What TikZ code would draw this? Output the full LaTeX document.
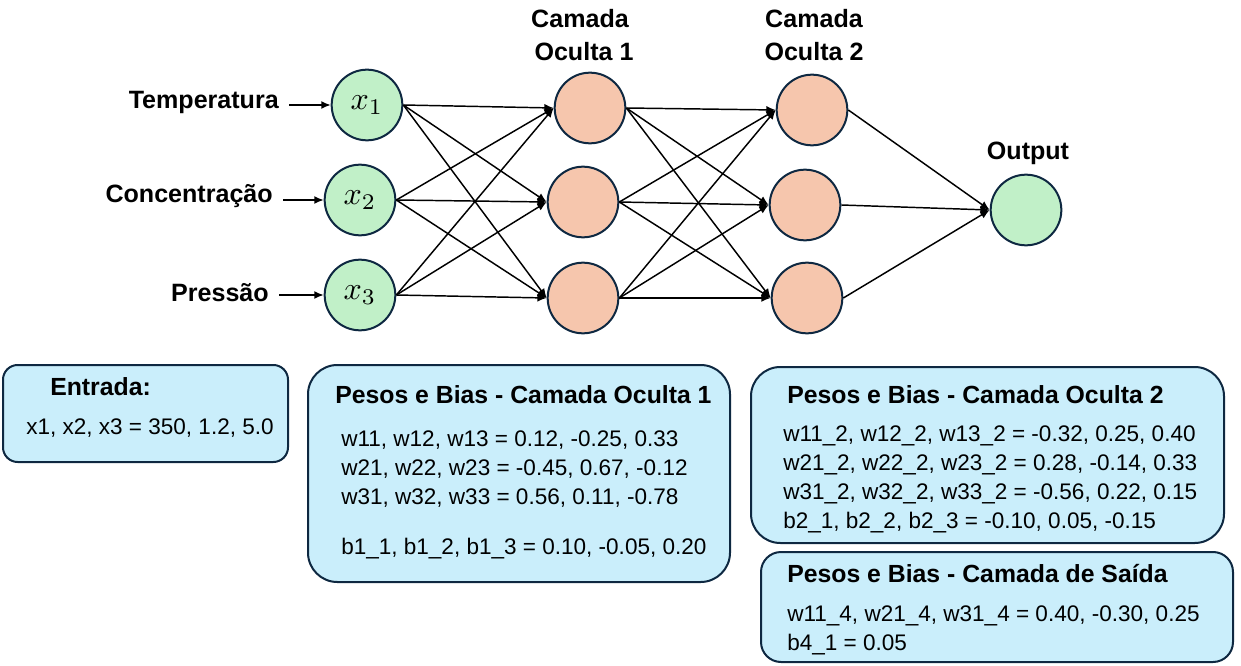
\documentclass[tikz,border=0pt]{standalone}
\usepackage[no-math]{fontspec}
\setmainfont{Liberation Sans}
\usetikzlibrary{arrows.meta}
\definecolor{navy}{HTML}{0E2841}
\definecolor{ngreen}{HTML}{C1F0C8}
\definecolor{npeach}{HTML}{F6C6AD}
\definecolor{boxblue}{HTML}{CAEEFB}
\newcommand{\bigmath}[1]{\scalebox{2.4}{$#1$}}
\begin{document}
\begin{tikzpicture}[x=0.75pt,y=-0.75pt,
  neuron/.style={circle, draw=navy, line width=1.5pt, minimum size=53pt, inner sep=0pt},
  inp/.style={neuron, fill=ngreen},
  hid/.style={neuron, fill=npeach},
  conn/.style={-{Latex[length=7pt,width=6pt]}, line width=1.1pt},
  hdr/.style={font=\bfseries\fontsize{18.8}{22}\selectfont, inner sep=0pt, anchor=base},
  lbl/.style={font=\bfseries\fontsize{18.8}{22}\selectfont, inner xsep=7.5pt, inner ysep=0pt, anchor=base east},
  infobox/.style={draw=navy, fill=boxblue, line width=1.5pt, inner sep=0pt, rounded corners=#1},
  infobox/.default=12pt,
  btitle/.style={font=\bfseries\fontsize{18.6}{22}\selectfont, inner sep=0pt, anchor=base west},
  body/.style={font=\fontsize{16.9}{20}\selectfont, inner sep=0pt, anchor=base west},
  mth/.style={inner sep=0pt}
]
\useasboundingbox (0,0) rectangle (1241,666);

% neurons
\node[inp] (x1) at (367,105) {};
\node[inp] (x2) at (360,200) {};
\node[inp] (x3) at (360,295) {};
\node[mth] (m1) at (x1) {\bigmath{x_1}};
\node[mth] (m2) at (x2) {\bigmath{x_2}};
\node[mth] (m3) at (x3) {\bigmath{x_3}};
\node[hid] (h1) at (590,108) {};
\node[hid] (h2) at (583,202) {};
\node[hid] (h3) at (583,298) {};
\node[hid] (g1) at (812,110) {};
\node[hid] (g2) at (805,205) {};
\node[hid] (g3) at (807,298) {};
\node[inp] (o) at (1026,210) {};

% headers
\node[hdr] (c1a) at (580,28) {Camada};
\node[hdr] (c1b) at (584,61) {Oculta 1};
\node[hdr] (c2a) at (814,28) {Camada};
\node[hdr] (c2b) at (814,61) {Oculta 2};
\node[hdr] (ol) at (1028,160) {Output};

% input labels
\node[lbl] (tT) at (289,109) {Temperatura};
\node[lbl] (tC) at (283,203) {Concentração};
\node[lbl] (tP) at (279,301) {Pressão};
\draw[conn] (tT.east |- x1.west) -- (x1.west);
\draw[conn] (tC.east |- x2.west) -- (x2.west);
\draw[conn] (tP.east |- x3.west) -- (x3.west);

% connections
\foreach \a in {x1,x2,x3}{\foreach \b in {h1,h2,h3}{\draw[conn] (\a.east) -- (\b.west);}}
\foreach \a in {h1,h2,h3}{\foreach \b in {g1,g2,g3}{\draw[conn] (\a.east) -- (\b.west);}}
\foreach \a in {g1,g2,g3}{\draw[conn] (\a.east) -- (o.west);}

% boxes
\node[infobox=11pt, minimum width=213.75pt, minimum height=72.75pt] (bin) at (145.5,413.5) {};
\node[btitle] (bint) at (50,395) {Entrada:};
\node[body] (binl) at (26,434) {x1, x2, x3 = 350, 1.2, 5.0};

\node[infobox=22pt, minimum width=316.5pt, minimum height=162.75pt] (bh1) at (519,473.5) {};
\node[btitle] (bh1t) at (335,403) {Pesos e Bias - Camada Oculta 1};
\node[body] (bh1a) at (341,446) {w11, w12, w13 = 0.12, -0.25, 0.33};
\node[body] (bh1b) at (341,475) {w21, w22, w23 = -0.45, 0.67, -0.12};
\node[body] (bh1c) at (341,504) {w31, w32, w33 = 0.56, 0.11, -0.78};
\node[body] (bh1d) at (341,554) {b1\_1, b1\_2, b1\_3 = 0.10, -0.05, 0.20};

\node[infobox=22pt, minimum width=354.75pt, minimum height=132pt] (bh2) at (987.5,455) {};
\node[btitle] (bh2t) at (787,403) {Pesos e Bias - Camada Oculta 2};
\node[body] (bh2a) at (783,441) {w11\_2, w12\_2, w13\_2 = -0.32, 0.25, 0.40};
\node[body] (bh2b) at (783,470) {w21\_2, w22\_2, w23\_2 = 0.28, -0.14, 0.33};
\node[body] (bh2c) at (783,499) {w31\_2, w32\_2, w33\_2 = -0.56, 0.22, 0.15};
\node[body] (bh2d) at (783,528) {b2\_1, b2\_2, b2\_3 = -0.10, 0.05, -0.15};

\node[infobox=15pt, minimum width=354pt, minimum height=82.5pt] (bo) at (997,607) {};
\node[btitle] (bot) at (787,582) {Pesos e Bias - Camada de Saída};
\node[body] (boa) at (787,621) {w11\_4, w21\_4, w31\_4 = 0.40, -0.30, 0.25};
\node[body] (bob) at (787,650) {b4\_1 = 0.05};
\end{tikzpicture}
\end{document}
